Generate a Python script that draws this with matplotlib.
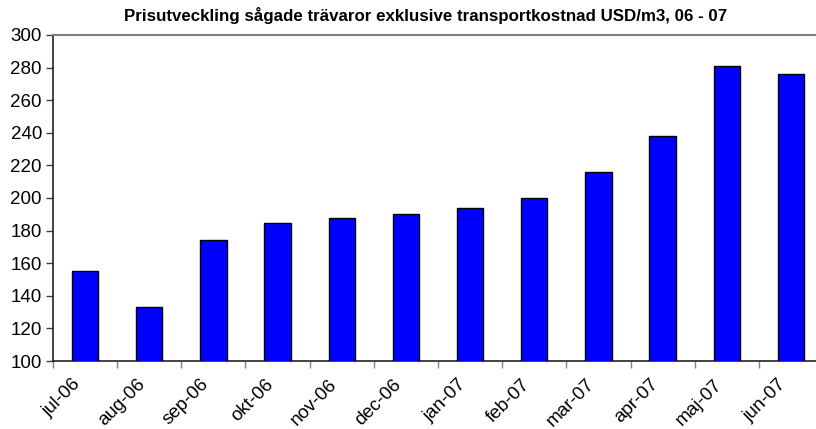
import matplotlib
matplotlib.use("Agg")
import matplotlib.pyplot as plt
import matplotlib.transforms as mtransforms
import numpy as np

# data
months = ["jul-06", "aug-06", "sep-06", "okt-06", "nov-06", "dec-06",
          "jan-07", "feb-07", "mar-07", "apr-07", "maj-07", "jun-07"]
prices = [155.5, 133, 174.5, 184.5, 187.5, 190, 194, 200, 216, 238, 281, 276]
yticks = [100, 120, 140, 160, 180, 200, 220, 240, 260, 280, 300]

plt.rcParams['font.family'] = ['Liberation Sans', 'DejaVu Sans']

fig = plt.figure(figsize=(8.16, 4.29), dpi=100)
# right edge of the plot goes a bit past the figure, as in the reference
ax = fig.add_axes([53/816, 1 - 361/429, 770/816, 326/429])

x = np.arange(len(months))
ax.bar(x, prices, width=0.41, bottom=0, color="#0000ff",
       edgecolor="black", linewidth=1.0, zorder=3)

ax.set_ylim(100, 300)
ax.set_xlim(-0.5, len(months) - 0.5)
ax.set_yticks(yticks)
ax.set_yticklabels([str(v) for v in yticks], fontsize=13.5)

# ticks sit between the categories, labels at the bar centres
ax.set_xticks(np.arange(len(months) + 1) - 0.5)
ax.set_xticklabels([])
ax.set_xticks(x, minor=True)
ax.set_xticklabels(months, minor=True, rotation=45, ha="right", va="center",
                   rotation_mode="anchor", fontsize=13.5)
ax.tick_params(axis="x", which="minor", length=0, pad=15)
ax.tick_params(axis="x", which="major", length=5, color="#808080", width=1)
ax.tick_params(axis="y", length=5, color="#404040", width=1, pad=3)

# nudge the rotated labels a little to the left
shift = mtransforms.ScaledTranslation(-0.07, 0, fig.dpi_scale_trans)
for lab in ax.get_xticklabels(minor=True):
    lab.set_transform(lab.get_transform() + shift)

ax.spines["right"].set_visible(False)
ax.spines["top"].set_color("#808080")
ax.spines["top"].set_linewidth(1.5)
ax.spines["left"].set_color("#222222")
ax.spines["bottom"].set_color("#222222")
ax.spines["left"].set_linewidth(1.2)
ax.spines["bottom"].set_linewidth(1.2)

fig.text(426/816, 1 - 15/429,
         "Prisutveckling sågade trävaror exklusive transportkostnad USD/m3, 06 - 07",
         ha="center", va="center", fontsize=12.2, fontweight="bold")

fig.savefig("out.png", dpi=100)
